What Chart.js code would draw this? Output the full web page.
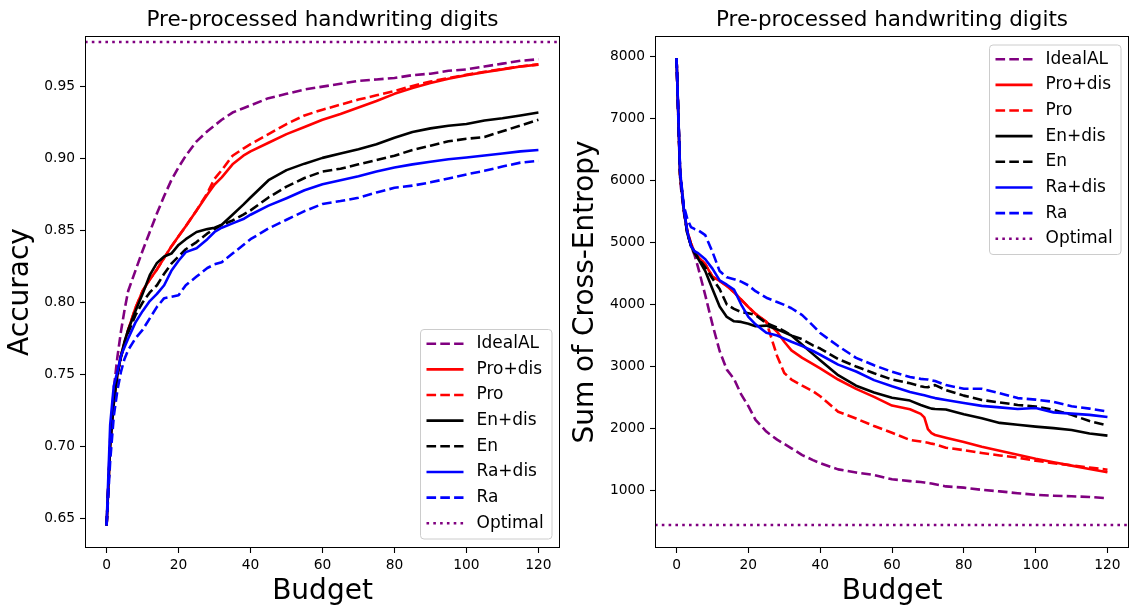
<!DOCTYPE html>
<html lang="en">
<head>
    <meta charset="UTF-8">
    <title>Pre-processed handwriting digits</title>
    <script src="https://cdn.jsdelivr.net/npm/chart.js"></script>
    <style>
        * { margin: 0; padding: 0; box-sizing: border-box; }
        body { background: #fff; }
        .wrap { position: relative; width: 1130px; height: 607px; }
        canvas { position: absolute; top: 0; }
    </style>
</head>
<body>
    <div class="wrap">
        <canvas id="accChart" width="565" height="607" style="left:0"></canvas>
        <canvas id="ceChart" width="565" height="607" style="left:565px"></canvas>
    </div>

    <script>
        // budget grid, left panel
        const budgetAcc = [0, 1, 2, 3, 4, 5, 6, 8, 10, 12, 14, 16, 18, 20, 22, 25, 28, 30, 32, 35, 38, 40, 45, 50, 55, 60, 65, 70, 75, 80, 85, 90, 95, 100, 105, 110, 115, 120];

        const accIdealAL = [0.645, 0.705, 0.740, 0.762, 0.780, 0.795, 0.808, 0.822, 0.836, 0.849, 0.862, 0.874, 0.885, 0.894, 0.902, 0.912, 0.919, 0.923, 0.927, 0.932, 0.935, 0.937, 0.942, 0.945, 0.948, 0.950, 0.952, 0.954, 0.955, 0.956, 0.958, 0.959, 0.961, 0.962, 0.964, 0.966, 0.968, 0.969];
        const accProDis = [0.645, 0.700, 0.730, 0.750, 0.763, 0.772, 0.781, 0.796, 0.808, 0.816, 0.823, 0.831, 0.839, 0.846, 0.853, 0.864, 0.875, 0.882, 0.887, 0.896, 0.902, 0.905, 0.911, 0.917, 0.922, 0.927, 0.931, 0.9355, 0.940, 0.945, 0.949, 0.9525, 0.9555, 0.958, 0.960, 0.962, 0.964, 0.9653];
        const accPro = [0.645, 0.700, 0.730, 0.750, 0.763, 0.772, 0.781, 0.796, 0.808, 0.816, 0.823, 0.831, 0.839, 0.846, 0.853, 0.864, 0.876, 0.886, 0.892, 0.902, 0.907, 0.910, 0.917, 0.924, 0.930, 0.934, 0.9375, 0.941, 0.944, 0.947, 0.9505, 0.9535, 0.956, 0.9583, 0.9603, 0.9622, 0.964, 0.9655];
        const accEnDis = [0.645, 0.700, 0.730, 0.750, 0.763, 0.773, 0.781, 0.794, 0.806, 0.819, 0.8275, 0.832, 0.834, 0.840, 0.844, 0.849, 0.851, 0.852, 0.854, 0.861, 0.868, 0.873, 0.885, 0.892, 0.8965, 0.9005, 0.9035, 0.9065, 0.910, 0.9145, 0.9185, 0.921, 0.9228, 0.924, 0.9265, 0.928, 0.930, 0.932];
        const accEn = [0.645, 0.700, 0.730, 0.750, 0.762, 0.771, 0.779, 0.791, 0.800, 0.807, 0.812, 0.820, 0.827, 0.832, 0.837, 0.842, 0.848, 0.851, 0.854, 0.857, 0.861, 0.864, 0.873, 0.8805, 0.8865, 0.891, 0.893, 0.896, 0.899, 0.902, 0.906, 0.909, 0.912, 0.9138, 0.915, 0.919, 0.923, 0.927];
        const accRaDis = [0.645, 0.715, 0.742, 0.752, 0.763, 0.769, 0.775, 0.786, 0.794, 0.801, 0.806, 0.812, 0.822, 0.829, 0.835, 0.8377, 0.844, 0.849, 0.852, 0.855, 0.858, 0.861, 0.8673, 0.8725, 0.878, 0.8822, 0.885, 0.8878, 0.891, 0.8938, 0.896, 0.8978, 0.8995, 0.9008, 0.9022, 0.9035, 0.905, 0.906];
        const accRa = [0.645, 0.690, 0.721, 0.739, 0.752, 0.761, 0.767, 0.775, 0.781, 0.789, 0.797, 0.803, 0.804, 0.805, 0.812, 0.818, 0.824, 0.8265, 0.828, 0.834, 0.840, 0.844, 0.8515, 0.8575, 0.8635, 0.8685, 0.8705, 0.8728, 0.8765, 0.8797, 0.8812, 0.8835, 0.8862, 0.889, 0.8915, 0.8945, 0.8972, 0.8984];
        const accOptimal = 0.981;

        // budget grid, right panel (denser around the Pro+dis drop)
        const budgetCE = [0, 1, 2, 3, 4, 5, 6, 8, 10, 12, 14, 16, 18, 20, 22, 25, 28, 30, 32, 35, 38, 40, 45, 50, 55, 60, 65, 68, 69, 70, 71, 72, 75, 80, 85, 90, 95, 100, 105, 110, 115, 120];

        const ceIdealAL = [7975, 6000, 5500, 5150, 4950, 4800, 4600, 4150, 3680, 3250, 2950, 2800, 2550, 2360, 2140, 1950, 1820, 1750, 1680, 1570, 1490, 1440, 1340, 1290, 1250, 1180, 1150, 1135, 1128, 1120, 1112, 1100, 1065, 1045, 1010, 985, 955, 930, 915, 905, 895, 873];
        const ceProDis = [7975, 6100, 5550, 5180, 4990, 4850, 4770, 4650, 4450, 4380, 4300, 4200, 4080, 3960, 3850, 3720, 3560, 3400, 3260, 3140, 3040, 2970, 2790, 2640, 2510, 2370, 2310, 2235, 2180, 1990, 1925, 1895, 1850, 1780, 1705, 1640, 1575, 1510, 1455, 1400, 1345, 1295];
        const cePro = [7975, 6100, 5550, 5180, 4990, 4850, 4770, 4650, 4450, 4380, 4300, 4200, 4080, 3960, 3850, 3720, 3170, 2895, 2790, 2690, 2600, 2520, 2270, 2160, 2040, 1930, 1815, 1790, 1780, 1770, 1755, 1745, 1690, 1650, 1605, 1565, 1530, 1480, 1440, 1405, 1370, 1335];
        const ceEnDis = [7975, 6100, 5550, 5150, 4950, 4830, 4740, 4540, 4250, 3970, 3800, 3730, 3720, 3690, 3650, 3660, 3600, 3550, 3500, 3350, 3200, 3100, 2860, 2690, 2580, 2495, 2450, 2380, 2360, 2340, 2320, 2315, 2305, 2230, 2165, 2090, 2060, 2030, 2005, 1975, 1920, 1885];
        const ceEn = [7975, 6100, 5550, 5150, 4960, 4850, 4750, 4600, 4420, 4250, 4000, 3930, 3880, 3860, 3830, 3700, 3630, 3570, 3500, 3440, 3340, 3290, 3120, 3000, 2890, 2790, 2730, 2680, 2670, 2665, 2690, 2700, 2620, 2530, 2460, 2420, 2380, 2355, 2300, 2220, 2120, 2048];
        const ceRaDis = [7975, 6150, 5550, 5180, 4950, 4860, 4830, 4730, 4580, 4390, 4320, 4240, 4000, 3800, 3680, 3545, 3500, 3450, 3400, 3330, 3250, 3190, 3030, 2920, 2780, 2680, 2590, 2550, 2535, 2520, 2505, 2490, 2460, 2410, 2365, 2340, 2315, 2330, 2260, 2240, 2220, 2185];
        const ceRa = [7975, 6150, 5600, 5380, 5250, 5220, 5200, 5120, 4850, 4540, 4440, 4410, 4370, 4310, 4215, 4110, 4040, 3995, 3940, 3830, 3660, 3540, 3330, 3140, 3020, 2915, 2830, 2800, 2795, 2790, 2775, 2765, 2700, 2640, 2640, 2570, 2490, 2465, 2430, 2360, 2320, 2275];
        const ceOptimal = 442;

        // tick labels
        const budgetTicks = [0, 20, 40, 60, 80, 100, 120];
        const accTicks = [0.65, 0.70, 0.75, 0.80, 0.85, 0.90, 0.95];
        const ceTicks = [1000, 2000, 3000, 4000, 5000, 6000, 7000, 8000];

        const seriesNames = ['IdealAL', 'Pro+dis', 'Pro', 'En+dis', 'En', 'Ra+dis', 'Ra'];
        const seriesColors = ['#800080', '#ff0000', '#ff0000', '#000000', '#000000', '#0000ff', '#0000ff'];
        const seriesDashed = [true, false, true, false, true, false, true];

        const FONT = "'DejaVu Sans', sans-serif";
        const LW = 2.6;
        const DASH = [9.6, 4.2];
        const DOT = [2.6, 4.2];
        const X_MIN = -6, X_MAX = 126;

        function makeDatasets(xs, series, optimal) {
            const sets = series.map((ys, i) => ({
                label: seriesNames[i],
                data: xs.map((x, j) => ({ x: x, y: ys[j] })),
                borderColor: seriesColors[i],
                borderDash: seriesDashed[i] ? DASH : [],
                borderWidth: LW,
                borderJoinStyle: 'round',
                pointRadius: 0,
                tension: 0,
                fill: false,
                order: 20 - i
            }));
            sets.push({
                label: 'Optimal',
                data: [{ x: X_MIN, y: optimal }, { x: X_MAX, y: optimal }],
                borderColor: '#800080',
                borderDash: DOT,
                borderWidth: LW,
                pointRadius: 0,
                fill: false,
                order: 1
            });
            return sets;
        }

        // axes frame on top of the lines
        const frame = {
            id: 'frame',
            afterDatasetsDraw(chart) {
                const { ctx, chartArea: a } = chart;
                ctx.save();
                ctx.strokeStyle = '#000';
                ctx.lineWidth = 1;
                ctx.strokeRect(a.left + 0.5, a.top + 0.5, a.right - a.left - 1, a.bottom - a.top - 1);
                ctx.restore();
            }
        };

        // matplotlib-like legend box inside the axes
        const boxLegend = {
            id: 'boxLegend',
            afterDraw(chart, args, opts) {
                const { ctx, chartArea: a } = chart;
                const w = 131.5, h = 209.5, r = 3.5;
                const x0 = a.right - 8 - w;
                const y0 = opts.corner === 'lower' ? a.bottom - 9 - h : a.top + 9;
                ctx.save();
                ctx.beginPath();
                ctx.moveTo(x0 + r, y0);
                ctx.arcTo(x0 + w, y0, x0 + w, y0 + h, r);
                ctx.arcTo(x0 + w, y0 + h, x0, y0 + h, r);
                ctx.arcTo(x0, y0 + h, x0, y0, r);
                ctx.arcTo(x0, y0, x0 + w, y0, r);
                ctx.closePath();
                ctx.fillStyle = 'rgba(255,255,255,0.8)';
                ctx.fill();
                ctx.strokeStyle = '#cccccc';
                ctx.lineWidth = 1;
                ctx.stroke();

                ctx.font = '17px ' + FONT;
                ctx.textBaseline = 'middle';
                chart.data.datasets.forEach((ds, i) => {
                    const y = y0 + 14.2 + i * 25.65;
                    ctx.beginPath();
                    ctx.setLineDash(ds.borderDash || []);
                    ctx.strokeStyle = ds.borderColor;
                    ctx.lineWidth = ds.borderWidth;
                    ctx.moveTo(x0 + 6, y);
                    ctx.lineTo(x0 + 43, y);
                    ctx.stroke();
                    ctx.setLineDash([]);
                    ctx.fillStyle = '#000';
                    ctx.fillText(ds.label, x0 + 56, y);
                });
                ctx.restore();
            }
        };

        function tickFont() {
            return { family: FONT, size: 13.8, lineHeight: 1.2 };
        }

        function buildChart(id, cfg) {
            return new Chart(document.getElementById(id), {
                type: 'line',
                data: { datasets: cfg.datasets },
                plugins: [frame, boxLegend],
                options: {
                    responsive: false,
                    animation: false,
                    devicePixelRatio: 1,
                    layout: { padding: { left: 0, right: cfg.padRight, top: 0, bottom: 0 } },
                    plugins: {
                        legend: { display: false },
                        tooltip: { enabled: false },
                        boxLegend: { corner: cfg.corner },
                        title: {
                            display: true,
                            text: 'Pre-processed handwriting digits',
                            color: '#000',
                            fullSize: false,
                            font: { family: FONT, size: 21.5, weight: 'normal', lineHeight: 1.2 },
                            padding: { top: 8, bottom: 2.2 }
                        }
                    },
                    scales: {
                        x: {
                            type: 'linear',
                            min: X_MIN,
                            max: X_MAX,
                            afterBuildTicks: s => { s.ticks = budgetTicks.map(v => ({ value: v })); },
                            afterFit: s => { s.height = 59; },
                            ticks: { color: '#000', font: tickFont(), padding: 3.9, maxRotation: 0, autoSkip: false, callback: v => String(v) },
                            grid: { drawOnChartArea: false, tickLength: 5, tickColor: '#000', tickWidth: 1.1 },
                            border: { display: false },
                            title: { display: true, text: 'Budget', color: '#000', font: { family: FONT, size: 28, lineHeight: 1 }, padding: { top: 0, bottom: 1.7 } }
                        },
                        y: {
                            type: 'linear',
                            min: cfg.yMin,
                            max: cfg.yMax,
                            afterBuildTicks: s => { s.ticks = cfg.yTicks.map(v => ({ value: v })); },
                            afterFit: s => { s.width = cfg.yWidth; },
                            ticks: { color: '#000', font: tickFont(), padding: 5, autoSkip: false, callback: cfg.yFormat },
                            grid: { drawOnChartArea: false, tickLength: 5, tickColor: '#000', tickWidth: 1.1 },
                            border: { display: false },
                            title: { display: true, text: cfg.yTitle, color: '#000', font: { family: FONT, size: 28, lineHeight: 1 }, padding: { top: 7, bottom: 0 } }
                        }
                    }
                }
            });
        }

        buildChart('accChart', {
            datasets: makeDatasets(budgetAcc, [accIdealAL, accProDis, accPro, accEnDis, accEn, accRaDis, accRa], accOptimal),
            yMin: 0.6294, yMax: 0.9852,
            yTicks: accTicks,
            yFormat: v => v.toFixed(2),
            yWidth: 85,
            yTitle: 'Accuracy',
            padRight: 5,
            corner: 'lower'
        });

        buildChart('ceChart', {
            datasets: makeDatasets(budgetCE, [ceIdealAL, ceProDis, cePro, ceEnDis, ceEn, ceRaDis, ceRa], ceOptimal),
            yMin: 71, yMax: 8334,
            yTicks: ceTicks,
            yFormat: v => String(v),
            yWidth: 90,
            yTitle: 'Sum of Cross-Entropy',
            padRight: 1,
            corner: 'upper'
        });
    </script>
</body>
</html>
